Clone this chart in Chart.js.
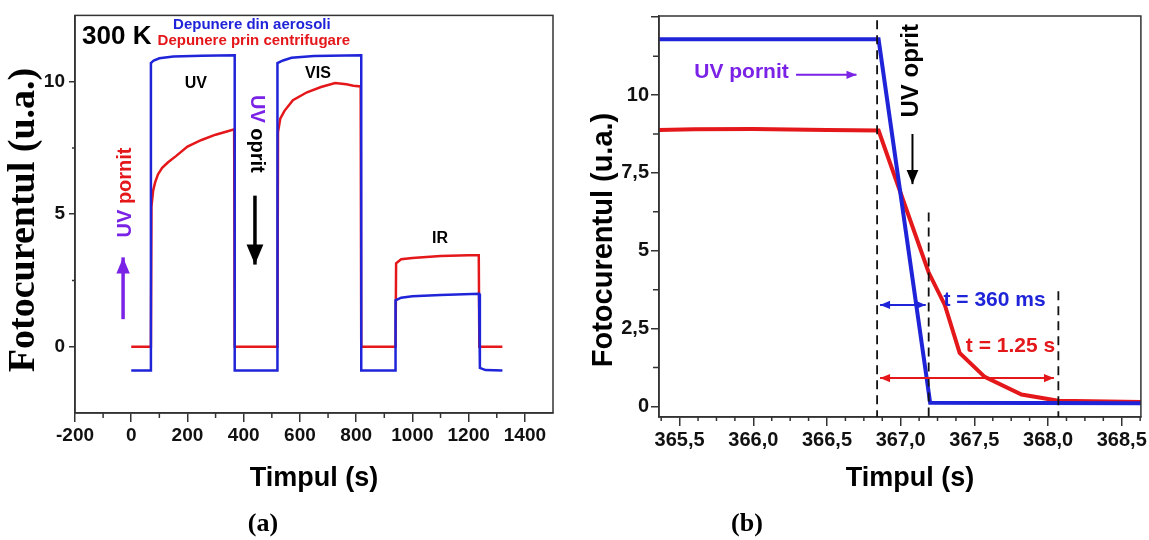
<!DOCTYPE html>
<html>
<head>
<meta charset="utf-8">
<script src="https://cdn.jsdelivr.net/npm/chart.js@4.4.1/dist/chart.umd.min.js"></script>
<style>
  html, body { margin: 0; padding: 0; background: #fff; }
  #wrap { position: relative; width: 1149px; height: 540px; }
  #chartA { position: absolute; left: 0; top: 0; }
  #chartB { position: absolute; left: 570px; top: 0; }
</style>
</head>
<body>
<div id="wrap">
  <canvas id="chartA" width="570" height="540"></canvas>
  <canvas id="chartB" width="579" height="540"></canvas>
</div>
<script>
// (a) full UV / VIS / IR run at 300 K
const aerosolTime = [0, 70, 70, 80, 100, 150, 250, 368, 368, 520, 520, 540, 570, 650, 818, 818, 940, 940, 960, 1000, 1100, 1237, 1240, 1260, 1320];
const aerosolCurrent = [-0.9, -0.9, 10.7, 10.8, 10.88, 10.95, 10.98, 11.0, -0.9, -0.9, 10.7, 10.8, 10.9, 10.97, 11.0, -0.9, -0.9, 1.75, 1.85, 1.9, 1.95, 2.0, -0.8, -0.88, -0.9];
const spinTime = [0, 70, 72, 78, 85, 95, 110, 130, 160, 200, 250, 300, 340, 366, 368, 520, 522, 530, 545, 575, 625, 675, 725, 765, 790, 816, 818, 940, 942, 960, 1000, 1100, 1200, 1236, 1238, 1320];
const spinCurrent = [0, 0, 5.3, 5.9, 6.2, 6.5, 6.75, 6.95, 7.2, 7.55, 7.8, 8.0, 8.12, 8.2, 0, 0, 8.1, 8.6, 8.9, 9.3, 9.6, 9.8, 9.95, 9.9, 9.85, 9.82, 0, 0, 3.15, 3.3, 3.35, 3.42, 3.45, 3.45, 0, 0];
const xTicksA = [-200, 0, 200, 400, 600, 800, 1000, 1200, 1400];
const yTicksA = [0, 5, 10];

// (b) zoom on the moment UV is switched off
const aerosolTimeB = [365.3, 366.85, 367.2, 368.7];
const aerosolCurrentB = [11.79, 11.79, 0.12, 0.1];
const spinTimeB = [365.3, 365.6, 366.0, 366.5, 366.85, 367.19, 367.3, 367.4, 367.57, 367.82, 368.07, 368.7];
const spinCurrentB = [8.87, 8.9, 8.91, 8.88, 8.86, 4.3, 3.25, 1.72, 0.95, 0.38, 0.18, 0.14];
const xTicksB = [365.5, 366.0, 366.5, 367.0, 367.5, 368.0, 368.5];
const yTicksB = [0, 2.5, 5, 7.5, 10, 12.5];

const BLUE = '#1f24d8';
const RED = '#e4171b';
const PURPLE = '#7a22e6';
const AXIS = '#333';
const SANS = '"Liberation Sans", Arial, sans-serif';
const SERIF = '"Liberation Serif", "Times New Roman", serif';

const pts = (xs, ys) => xs.map((x, i) => ({ x: x, y: ys[i] }));

function text(ctx, list, x, y, font, rot, align) {
  ctx.save();
  ctx.translate(x, y);
  ctx.rotate(rot || 0);
  ctx.font = font;
  ctx.textBaseline = 'middle';
  ctx.textAlign = 'left';
  const total = list.reduce((s, p) => s + ctx.measureText(p[0]).width, 0);
  let cx = align === 'left' ? 0 : -total / 2;
  for (const [t, c] of list) {
    ctx.fillStyle = c;
    ctx.fillText(t, cx, 0);
    cx += ctx.measureText(t).width;
  }
  ctx.restore();
}

function arrow(ctx, x1, y1, x2, y2, color, lw, head, both) {
  const a = Math.atan2(y2 - y1, x2 - x1);
  ctx.save();
  ctx.strokeStyle = color;
  ctx.fillStyle = color;
  ctx.lineWidth = lw;
  ctx.beginPath();
  ctx.moveTo(x1, y1);
  ctx.lineTo(x2, y2);
  ctx.stroke();
  const tip = (x, y, ang) => {
    const c = Math.cos(ang), s = Math.sin(ang), w = head * 0.42;
    ctx.beginPath();
    ctx.moveTo(x, y);
    ctx.lineTo(x - head * c + w * s, y - head * s - w * c);
    ctx.lineTo(x - head * c - w * s, y - head * s + w * c);
    ctx.closePath();
    ctx.fill();
  };
  tip(x2, y2, a);
  if (both) tip(x1, y1, a + Math.PI);
  ctx.restore();
}

function minorTicks(ctx, scale, values, len, horizontal, ca) {
  ctx.save();
  ctx.strokeStyle = AXIS;
  ctx.lineWidth = 1.5;
  ctx.beginPath();
  values.forEach(v => {
    const p = scale.getPixelForValue(v);
    if (horizontal) { ctx.moveTo(p, ca.bottom); ctx.lineTo(p, ca.bottom + len); }
    else { ctx.moveTo(ca.left, p); ctx.lineTo(ca.left - len, p); }
  });
  ctx.stroke();
  ctx.restore();
}

function frame(ctx, ca) {
  ctx.save();
  ctx.strokeStyle = AXIS;
  ctx.lineWidth = 1.5;
  ctx.strokeRect(ca.left, ca.top, ca.width, ca.height);
  ctx.restore();
}

function axisCfg(min, max, tickList, fit, size, tickLen, pad, fmt) {
  return {
    type: 'linear',
    min: min,
    max: max,
    afterBuildTicks: s => { s.ticks = tickList.map(v => ({ value: v })); },
    afterFit: fit,
    grid: { display: true, drawOnChartArea: false, drawTicks: true, tickLength: tickLen, color: AXIS, lineWidth: 1.5 },
    border: { display: true, color: AXIS, width: 1.5 },
    ticks: { color: '#111', padding: pad, font: { family: SANS, weight: 'bold', size: size }, callback: fmt, maxRotation: 0, autoSkip: false }
  };
}

const decorA = {
  id: 'decorA',
  afterDraw(chart) {
    const { ctx, chartArea: ca } = chart;
    const x = chart.scales.x, y = chart.scales.y;
    const X = v => x.getPixelForValue(v), Y = v => y.getPixelForValue(v);
    frame(ctx, ca);
    minorTicks(ctx, x, [-100, 100, 300, 500, 700, 900, 1100, 1300], 5, true, ca);
    minorTicks(ctx, y, [2.5, 7.5], 3, false, ca);

    text(ctx, [['300 K', '#000']], X(-175), Y(11.68), 'bold 26px ' + SANS, 0, 'left');
    text(ctx, [['Depunere din aerosoli', BLUE]], X(429), Y(12.13), 'bold 15px ' + SANS);
    text(ctx, [['Depunere prin centrifugare', RED]], X(436), Y(11.53), 'bold 15px ' + SANS);
    text(ctx, [['UV', '#000']], X(230), Y(9.91), 'bold 16px ' + SANS);
    text(ctx, [['VIS', '#000']], X(664), Y(10.29), 'bold 16px ' + SANS);
    text(ctx, [['IR', '#000']], X(1098), Y(4.09), 'bold 16px ' + SANS);

    text(ctx, [['UV', PURPLE], [' pornit', RED]], X(-22), Y(5.82), 'bold 20px ' + SANS, -Math.PI / 2);
    arrow(ctx, X(-29), Y(1.04), X(-29), Y(3.37), PURPLE, 3.5, 16);
    text(ctx, [['UV', PURPLE], [' oprit', '#000']], X(447), Y(8.03), 'bold 20px ' + SANS, Math.PI / 2);
    arrow(ctx, X(440), Y(5.7), X(440), Y(3.1), '#000', 3.5, 20);

    text(ctx, [['Fotocurentul (u.a.)', '#000']], 24, 220, 'bold 38px ' + SERIF, -Math.PI / 2);
    text(ctx, [['Timpul (s)', '#000']], 314, 479, 'bold 27px ' + SANS);
    text(ctx, [['(a)', '#000']], 263, 524, 'bold 26px ' + SERIF);
  }
};

const decorB = {
  id: 'decorB',
  afterDraw(chart) {
    const { ctx, chartArea: ca } = chart;
    const x = chart.scales.x, y = chart.scales.y;
    const X = v => x.getPixelForValue(v), Y = v => y.getPixelForValue(v);
    frame(ctx, ca);
    const minX = [];
    for (let v = 365.375; v < 368.63; v += 0.125) {
      if (Math.abs(v * 2 - Math.round(v * 2)) > 1e-6) minX.push(v);
    }
    minorTicks(ctx, x, minX, 4, true, ca);
    minorTicks(ctx, y, [1.25, 3.75, 6.25, 8.75, 11.25], 6, false, ca);

    ctx.save();
    ctx.strokeStyle = '#111';
    ctx.lineWidth = 1.8;
    ctx.setLineDash([9, 6]);
    [[366.84, 12.4], [367.19, 6.23], [368.07, 3.7]].forEach(([vx, vtop]) => {
      ctx.beginPath();
      ctx.moveTo(X(vx), Y(vtop));
      ctx.lineTo(X(vx), ca.bottom);
      ctx.stroke();
    });
    ctx.restore();

    arrow(ctx, X(366.86), Y(3.26), X(367.17), Y(3.26), BLUE, 2, 10, true);
    arrow(ctx, X(366.86), Y(0.91), X(368.04), Y(0.91), RED, 2, 10, true);
    text(ctx, [['t = 360 ms', BLUE]], X(367.637), Y(3.42), 'bold 21px ' + SANS);
    text(ctx, [['t = 1.25 s', RED]], X(367.745), Y(1.93), 'bold 21px ' + SANS);

    text(ctx, [['UV pornit', PURPLE]], X(365.92), Y(10.75), 'bold 21px ' + SANS);
    arrow(ctx, X(366.29), Y(10.65), X(366.70), Y(10.65), PURPLE, 2, 10);
    text(ctx, [['UV oprit', '#000']], X(367.07), Y(10.78), 'bold 24px ' + SANS, -Math.PI / 2);
    arrow(ctx, X(367.08), Y(8.75), X(367.08), Y(7.14), '#000', 2, 14);

    text(ctx, [['Fotocurentul (u.a.)', '#000']], 34, 240, 'bold 29px ' + SANS, -Math.PI / 2);
    text(ctx, [['Timpul (s)', '#000']], 340, 479, 'bold 27px ' + SANS);
    text(ctx, [['(b)', '#000']], 177, 524, 'bold 26px ' + SERIF);
  }
};

function line(data, color, width) {
  return { data: data, borderColor: color, borderWidth: width, pointRadius: 0, showLine: true, fill: false, tension: 0 };
}

new Chart(document.getElementById('chartA').getContext('2d'), {
  type: 'scatter',
  data: {
    datasets: [
      line(pts(aerosolTime, aerosolCurrent), BLUE, 2.5),
      line(pts(spinTime, spinCurrent), RED, 2.5)
    ]
  },
  options: {
    responsive: false,
    animation: false,
    devicePixelRatio: 1,
    layout: { autoPadding: false, padding: { left: 0, right: 17, top: 15, bottom: 87 } },
    plugins: { legend: { display: false }, tooltip: { enabled: false } },
    scales: {
      x: axisCfg(-200, 1500, xTicksA, s => { s.height = 40; }, 19, 9, 2, v => String(v)),
      y: axisCfg(-2.5, 12.5, yTicksA, s => { s.width = 75; }, 19, 6, 4, v => String(v))
    }
  },
  plugins: [decorA]
});

new Chart(document.getElementById('chartB').getContext('2d'), {
  type: 'scatter',
  data: {
    datasets: [
      line(pts(aerosolTimeB, aerosolCurrentB), BLUE, 4),
      line(pts(spinTimeB, spinCurrentB), RED, 4)
    ]
  },
  options: {
    responsive: false,
    animation: false,
    devicePixelRatio: 1,
    layout: { autoPadding: false, padding: { left: 0, right: 6, top: 16, bottom: 83 } },
    plugins: { legend: { display: false }, tooltip: { enabled: false } },
    scales: {
      x: axisCfg(365.36, 368.63, xTicksB, s => { s.height = 40; }, 20, 9, 2, v => v.toFixed(1).replace('.', ',')),
      y: axisCfg(-0.34, 12.54, yTicksB, s => { s.width = 89; }, 20, 8, 2, v => (v === 12.5 ? '' : String(v).replace('.', ',')))
    }
  },
  plugins: [decorB]
});
</script>
</body>
</html>
